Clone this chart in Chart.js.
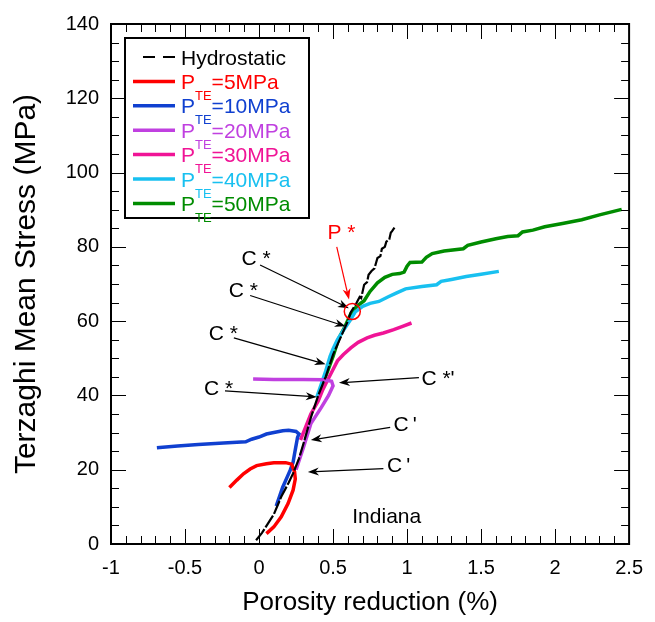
<!DOCTYPE html>
<html><head><meta charset="utf-8">
<script src="https://cdn.jsdelivr.net/npm/chart.js@4/dist/chart.umd.min.js"></script>
<style>html,body{margin:0;padding:0;background:#fff}#wrap{width:655px;height:622px}</style>
</head><body><div id="wrap"><canvas id="c" width="655" height="622"></canvas></div>
<script>
// ---------- DATA (porosity reduction %, Terzaghi mean stress MPa) ----------
const hydrostatic = [[-0.02,1],[0.02,3],[0.06,5.5],[0.1,8],[0.15,12.7],[0.2,16.5],[0.23,19],[0.27,23],[0.3,27],[0.35,34],[0.4,40],[0.45,45],[0.5,51],[0.55,55.5],[0.6,60],[0.62,62.4],[0.66,65],[0.68,66.5],[0.69,66.2],[0.71,69.8],[0.73,70.5],[0.74,72.5],[0.76,73.5],[0.78,74.2],[0.8,77],[0.82,77.5],[0.83,79.5],[0.85,80],[0.86,81.4],[0.88,82],[0.89,83.8],[0.9,84.3],[0.915,85.2]];
const pte5 = [[0.05,2.8],[0.1,4.6],[0.15,7.3],[0.196,10.9],[0.23,14.5],[0.245,17.5],[0.24,19.5],[0.22,21.5],[0.18,21.9],[0.1,21.9],[0.05,21.6],[-0.016,21.1],[-0.06,20.2],[-0.105,18.9],[-0.15,17.2],[-0.2,15.2]];
const pte10 = [[0.116,10.2],[0.14,13],[0.16,15.3],[0.19,18],[0.21,19.8],[0.23,22],[0.24,24.3],[0.25,26.5],[0.26,28.7],[0.27,29.6],[0.25,30.3],[0.2,30.6],[0.16,30.5],[0.1,30],[0.05,29.6],[0,28.8],[-0.05,28.2],[-0.09,27.5],[-0.15,27.4],[-0.24,27.2],[-0.41,26.8],[-0.55,26.4],[-0.69,25.9]];
const pte20 = [[0.25,20],[0.3,26],[0.35,32.4],[0.42,36.7],[0.47,40],[0.5,42.6],[0.49,43.8],[0.44,44.2],[0.3,44.3],[0.1,44.3],[-0.04,44.4]];
const pte30 = [[0.28,28],[0.31,31],[0.35,35],[0.4,38.5],[0.43,41.5],[0.46,43.9],[0.5,47],[0.53,49.3],[0.57,51],[0.62,52.8],[0.67,54.3],[0.73,55.5],[0.78,56.2],[0.84,56.8],[0.91,57.7],[0.97,58.6],[1.03,59.5]];
const pte40 = [[0.39,39.5],[0.42,43],[0.45,46.5],[0.48,50.5],[0.5,52.5],[0.53,55],[0.57,57.5],[0.62,60.5],[0.65,62.5],[0.7,64],[0.75,64.8],[0.81,65.3],[0.87,66.5],[0.93,67.6],[0.99,68.7],[1.1,69.3],[1.2,69.8],[1.23,70.7],[1.3,71.2],[1.4,72],[1.5,72.6],[1.62,73.4]];
const pte50 = [[0.44,44],[0.5,50.5],[0.54,55.5],[0.58,58.5],[0.62,62],[0.66,64],[0.71,65.5],[0.75,68],[0.8,70.3],[0.85,71.8],[0.9,72.6],[0.95,72.8],[0.98,73.2],[1.0,74.8],[1.02,75.8],[1.1,75.9],[1.13,77.2],[1.17,78.2],[1.25,78.9],[1.38,79.5],[1.41,80.4],[1.5,81.3],[1.6,82.2],[1.68,82.8],[1.75,83],[1.78,84],[1.85,84.5],[1.93,85.4],[2.05,86.3],[2.18,87.3],[2.3,88.6],[2.45,90.1]];
const seriesNames = ['Hydrostatic','P_TE=5MPa','P_TE=10MPa','P_TE=20MPa','P_TE=30MPa','P_TE=40MPa','P_TE=50MPa'];
const seriesData = [hydrostatic, pte5, pte10, pte20, pte30, pte40, pte50];
const xTickValues = [-1,-0.5,0,0.5,1,1.5,2,2.5];
const yTickValues = [0,20,40,60,80,100,120,140];
const xTitle = 'Porosity reduction (%)';
const yTitle = 'Terzaghi Mean Stress (MPa)';
// annotation anchors (data coordinates)
const arrowNotes = [
  {from:[0.007,75.1], to:[0.607,63.5]},
  {from:[-0.06,66.9], to:[0.585,58.6]},
  {from:[-0.17,55.5], to:[0.45,48.4]},
  {from:[-0.23,41.2], to:[0.39,39.6]},
  {from:[1.08,44.8], to:[0.54,43.4]},
  {from:[0.886,31.4], to:[0.35,28.0]},
  {from:[0.84,20.3], to:[0.33,19.4]},
  {from:[0.525,80], to:[0.608,65.8], red:true}
];
const textNotes = [
  {text:'C *', at:[-0.118,76.7]},
  {text:'C *', at:[-0.205,68.0]},
  {text:'C *', at:[-0.339,56.5]},
  {text:'C *', at:[-0.372,41.8]},
  {text:"C *'", at:[1.097,44.4]},
  {text:"C\u2009'", at:[0.908,32.1]},
  {text:"C\u2009'", at:[0.864,20.9]},
  {text:'P *', at:[0.462,83.6], red:true},
  {text:'Indiana', at:[0.63,7.3]}
];
const pStarCircle = [0.63,62.6];

// ---------- STYLE ----------
const FONT = "'Liberation Sans', Arial, Helvetica, sans-serif";
const colors = ['#000000','#ff0000','#1040d0','#c040e0','#f01496','#18c0f0','#008c00'];
const widths = [2.2,3.5,3.5,3.5,3.5,3.5,3.5];

Chart.defaults.font.family = FONT;
Chart.defaults.color = '#000';

const datasets = seriesData.map((d,i)=>({
  label: seriesNames[i],
  data: d.map(p=>({x:p[0], y:p[1]})),
  borderColor: colors[i],
  backgroundColor: colors[i],
  borderWidth: widths[i],
  borderDash: i===0 ? [14,2] : [],
  pointRadius: 0,
  showLine: true,
  fill: false,
  tension: 0
}));

function px(chart, p){ return [chart.scales.x.getPixelForValue(p[0]), chart.scales.y.getPixelForValue(p[1])]; }

const decor = {
  id:'decor',
  afterDatasetsDraw(chart){
    const ctx = chart.ctx, a = chart.chartArea, xs = chart.scales.x, ys = chart.scales.y;
    ctx.save();
    // ticks (inward, all four sides)
    ctx.strokeStyle = '#000'; ctx.lineWidth = 1;
    ctx.beginPath();
    for (let i=-10;i<=25;i++){
      const X = Math.round(xs.getPixelForValue(i/10))+0.5;
      const L = (i%5===0)?15:8;
      ctx.moveTo(X,a.bottom); ctx.lineTo(X,a.bottom-L);
      ctx.moveTo(X,a.top); ctx.lineTo(X,a.top+L);
    }
    for (let v=0; v<=140; v+=5){
      const Y = Math.round(ys.getPixelForValue(v))+0.5;
      const L = (v%20===0)?15:8;
      ctx.moveTo(a.left,Y); ctx.lineTo(a.left+L,Y);
      ctx.moveTo(a.right,Y); ctx.lineTo(a.right-L,Y);
    }
    ctx.stroke();
    ctx.lineWidth = 2;
    ctx.strokeRect(a.left, a.top, a.right-a.left, a.bottom-a.top);

    // arrows
    arrowNotes.forEach(n=>{
      const [x0,y0] = px(chart,n.from), [x1,y1] = px(chart,n.to);
      const col = n.red ? '#ff0000' : '#000';
      const ang = Math.atan2(y1-y0, x1-x0);
      const hl = 11, hw = 4;
      ctx.strokeStyle = col; ctx.fillStyle = col; ctx.lineWidth = 1.2;
      ctx.beginPath(); ctx.moveTo(x0,y0);
      ctx.lineTo(x1 - Math.cos(ang)*hl*0.7, y1 - Math.sin(ang)*hl*0.7); ctx.stroke();
      ctx.beginPath();
      ctx.moveTo(x1,y1);
      ctx.lineTo(x1 - Math.cos(ang)*hl + Math.sin(ang)*hw, y1 - Math.sin(ang)*hl - Math.cos(ang)*hw);
      ctx.lineTo(x1 - Math.cos(ang)*hl*0.7, y1 - Math.sin(ang)*hl*0.7);
      ctx.lineTo(x1 - Math.cos(ang)*hl - Math.sin(ang)*hw, y1 - Math.sin(ang)*hl + Math.cos(ang)*hw);
      ctx.closePath(); ctx.fill();
    });
    // P* circle
    const [cx,cy] = px(chart,pStarCircle);
    ctx.strokeStyle = '#ff0000'; ctx.lineWidth = 1.5;
    ctx.beginPath(); ctx.arc(cx,cy,8,0,Math.PI*2); ctx.stroke();
    // text notes
    ctx.font = '21px ' + FONT; ctx.textBaseline = 'middle'; ctx.textAlign = 'left';
    textNotes.forEach(n=>{
      const [x,y] = px(chart,n.at);
      ctx.fillStyle = n.red ? '#ff0000' : '#000';
      ctx.fillText(n.text, x, y);
    });

    // legend
    const bx = a.left+14, by = a.top+14, bw = 184, bh = 180;
    ctx.fillStyle = '#fff'; ctx.fillRect(bx,by,bw,bh);
    ctx.strokeStyle = '#000'; ctx.lineWidth = 2; ctx.strokeRect(bx,by,bw,bh);
    chart.data.datasets.forEach((ds,i)=>{
      const ry = by + 19 + i*24.4;
      ctx.strokeStyle = ds.borderColor; ctx.lineWidth = i===0 ? 2.2 : 3.5;
      ctx.setLineDash(i===0 ? [12,8] : []);
      ctx.beginPath();
      ctx.moveTo(bx + (i===0?18:8), ry); ctx.lineTo(bx+50, ry); ctx.stroke();
      ctx.setLineDash([]);
      ctx.fillStyle = ds.borderColor;
      ctx.textBaseline = 'alphabetic';
      let tx = bx + 56;
      const base = ry + 7.5;
      const parts = ds.label.split('_');
      ctx.font = '21px ' + FONT;
      if (parts.length === 1){ ctx.fillText(parts[0], tx, base); }
      else {
        const sub = parts[1].split('=')[0];
        const rest = parts[1].slice(sub.length);
        ctx.fillText(parts[0], tx, base); tx += ctx.measureText(parts[0]).width;
        ctx.font = '13px ' + FONT;
        ctx.fillText(sub, tx, base + 11); tx += ctx.measureText(sub).width;
        ctx.font = '21px ' + FONT;
        ctx.fillText(rest, tx, base);
      }
    });
    ctx.restore();
  }
};

new Chart(document.getElementById('c'), {
  type: 'scatter',
  data: { datasets },
  options: {
    responsive: false,
    animation: false,
    devicePixelRatio: 1,
    layout: { padding: { top: 21, right: 20, left: 0, bottom: 0 } },
    plugins: { legend: { display: false }, tooltip: { enabled: false } },
    scales: {
      x: {
        type: 'linear', min: -1, max: 2.5,
        afterBuildTicks: s => { s.ticks = xTickValues.map(v=>({value:v})); },
        afterFit: s => { s.height = 78; },
        ticks: { font: { size: 20 }, color: '#000', padding: 12, callback: v => String(v) },
        grid: { display: false, drawTicks: false },
        border: { display: false },
        title: { display: true, text: xTitle, font: { size: 26 }, color: '#000', padding: { top: 2 } }
      },
      y: {
        type: 'linear', min: 0, max: 140,
        afterBuildTicks: s => { s.ticks = yTickValues.map(v=>({value:v})); },
        afterFit: s => { s.width = 111; },
        ticks: { font: { size: 20 }, color: '#000', padding: 12, callback: v => String(v) },
        grid: { display: false, drawTicks: false },
        border: { display: false },
        title: { display: true, text: yTitle, font: { size: 30 }, color: '#000', padding: { top: 9, bottom: 0 } }
      }
    }
  },
  plugins: [decor]
});
</script>
</body></html>
